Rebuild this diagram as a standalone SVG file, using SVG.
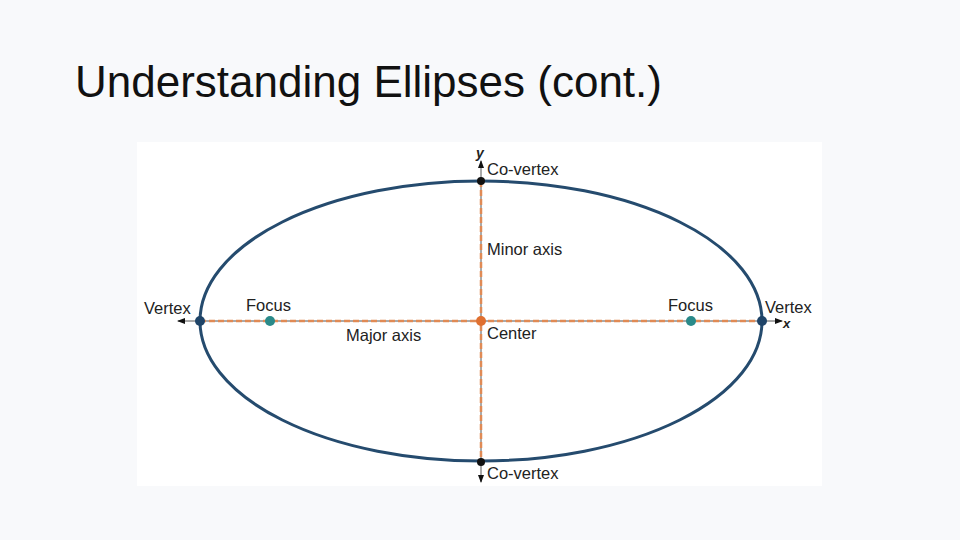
<svg xmlns="http://www.w3.org/2000/svg" width="960" height="540" viewBox="0 0 960 540">
<style>
.t{font-family:"Liberation Sans",Arial,sans-serif;font-size:16.5px;fill:#222}
.ax{stroke:#555;stroke-width:1}
.da{stroke:#e08a55;stroke-width:2.5;stroke-dasharray:6,3}
</style>
<defs>
<marker id="ah" markerWidth="8" markerHeight="8" refX="7" refY="4" orient="auto" markerUnits="userSpaceOnUse"><path d="M0,1 L8,4 L0,7 Z" fill="#111"/></marker>
</defs>
<rect width="960" height="540" fill="#f8f9fb"/>
<text x="75" y="97" style="font-family:'Liberation Sans',Arial,sans-serif;font-size:44px;fill:#111">Understanding Ellipses (cont.)</text>
<rect x="137" y="142" width="685" height="344" fill="#fff"/>
<g id="connectors">
<line x1="200" y1="321" x2="178" y2="321" class="ax" marker-end="url(#ah)"/>
<line x1="762" y1="321" x2="782" y2="321" class="ax" marker-end="url(#ah)"/>
<line x1="481" y1="181" x2="481" y2="161" class="ax" marker-end="url(#ah)"/>
<line x1="481" y1="462" x2="481" y2="482" class="ax" marker-end="url(#ah)"/>
<line x1="200" y1="321" x2="762" y2="321" class="ax"/>
<line x1="481" y1="181" x2="481" y2="462" class="ax"/>
<line x1="200" y1="321" x2="762" y2="321" class="da"/>
<line x1="481" y1="181" x2="481" y2="462" class="da"/>
</g>
<g id="ellipse"><ellipse cx="481" cy="321" rx="281" ry="140" fill="none" stroke="#254b6e" stroke-width="3"/></g>
<g id="vertex-left"><circle cx="200" cy="321" r="5" fill="#1f4468"/><text x="144" y="314" class="t">Vertex</text></g>
<g id="vertex-right"><circle cx="762" cy="321" r="5" fill="#1f4468"/><text x="765" y="313" class="t">Vertex</text></g>
<g id="focus-left"><circle cx="270" cy="321" r="5" fill="#2a8a8a"/><text x="246" y="311" class="t">Focus</text></g>
<g id="focus-right"><circle cx="691" cy="321" r="5" fill="#2a8a8a"/><text x="668" y="311" class="t">Focus</text></g>
<g id="center"><circle cx="481" cy="321" r="5" fill="#e07030"/><text x="487" y="339" class="t">Center</text></g>
<g id="covertex-top"><circle cx="481" cy="181" r="4" fill="#111"/><text x="487" y="175" class="t">Co-vertex</text></g>
<g id="covertex-bottom"><circle cx="481" cy="462" r="4" fill="#111"/><text x="487" y="479" class="t">Co-vertex</text></g>
<g id="labels">
<text x="487" y="255" class="t">Minor axis</text>
<text x="346" y="341" class="t">Major axis</text>
<text x="476" y="158" style="font-family:'Liberation Sans',Arial,sans-serif;font-size:14px;font-weight:bold;font-style:italic;fill:#222">y</text>
<text x="783" y="328" style="font-family:'Liberation Sans',Arial,sans-serif;font-size:13px;font-weight:bold;font-style:italic;fill:#222">x</text>
</g>
</svg>
